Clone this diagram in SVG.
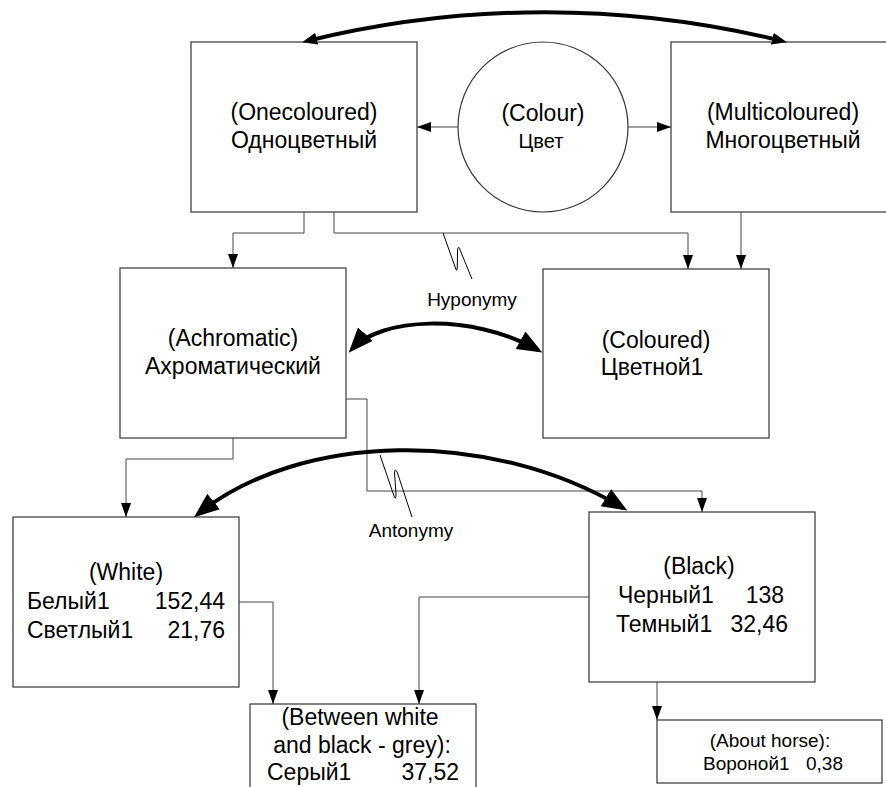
<svg xmlns="http://www.w3.org/2000/svg" width="886" height="787" viewBox="0 0 886 787">
<style>
.box{fill:#fff;stroke:#333;stroke-width:1.2}
.t{font-family:"Liberation Sans",Arial,sans-serif;font-size:23px;fill:#000}
.m{text-anchor:middle}
.e{text-anchor:end}
.s{font-size:19px}
.c{fill:none;stroke:#444;stroke-width:1}
.thick{fill:none;stroke:#000;stroke-width:4}
.zig{fill:none;stroke:#000;stroke-width:1}
</style>
<defs>
<marker id="ah" markerUnits="userSpaceOnUse" markerWidth="16" markerHeight="12" refX="14" refY="5" orient="auto"><path d="M0,0 L14,5 L0,10 Z" fill="#000"/></marker>
<marker id="big" markerUnits="userSpaceOnUse" markerWidth="30" markerHeight="24" refX="20" refY="10" orient="auto-start-reverse"><path d="M0,0 L25,10 L0,20 Z" fill="#000"/></marker>
<marker id="sm" markerUnits="userSpaceOnUse" markerWidth="20" markerHeight="14" refX="10" refY="6" orient="auto-start-reverse"><path d="M0,0 L15,6 L0,12 Z" fill="#000"/></marker>
</defs>

<g id="onecoloured"><rect class="box" x="191" y="42" width="226" height="170"/><text class="t m" x="304" y="120">(Onecoloured)</text><text class="t m" x="304" y="148">Одноцветный</text></g>
<g id="colour"><circle class="box" cx="543" cy="127" r="85"/><text class="t m" x="543" y="121">(Colour)</text><text class="t m" x="541" y="148" style="font-size:20px">Цвет</text></g>
<g id="multicoloured"><rect class="box" x="671" y="42" width="226" height="170"/><text class="t m" x="783" y="120">(Multicoloured)</text><text class="t m" x="783" y="148">Многоцветный</text></g>
<g id="achromatic"><rect class="box" x="120" y="268" width="226" height="170"/><text class="t m" x="233" y="346">(Achromatic)</text><text class="t m" x="233" y="374">Ахроматический</text></g>
<g id="coloured"><rect class="box" x="543" y="269" width="226" height="169"/><text class="t m" x="656" y="348">(Coloured)</text><text class="t m" x="652" y="375">Цветной1</text></g>
<g id="white"><rect class="box" x="13" y="517" width="226" height="170"/><text class="t m" x="126" y="580">(White)</text><text class="t" x="27" y="609">Белый1</text><text class="t e" x="225" y="609">152,44</text><text class="t" x="27" y="638">Светлый1</text><text class="t e" x="225" y="638">21,76</text></g>
<g id="black"><rect class="box" x="589" y="512" width="226" height="170"/><text class="t m" x="699" y="574">(Black)</text><text class="t" x="618" y="603">Черный1</text><text class="t e" x="784" y="603">138</text><text class="t" x="616" y="632">Темный1</text><text class="t e" x="788" y="632">32,46</text></g>
<g id="grey"><rect class="box" x="250" y="704" width="226" height="100"/><text class="t m" x="360" y="725">(Between white</text><text class="t m" x="362" y="753">and black - grey):</text><text class="t" x="267" y="780">Серый1</text><text class="t e" x="459" y="780">37,52</text></g>
<g id="horse"><rect class="box" x="657" y="720" width="225" height="63"/><text class="t m s" x="770" y="747">(About horse):</text><text class="t s" x="703" y="770">Вороной1</text><text class="t s e" x="843" y="770">0,38</text></g>

<g id="connectors">
<path class="c" d="M458,127 H417" marker-end="url(#ah)"/>
<path class="c" d="M628,127 H671" marker-end="url(#ah)"/>
<path class="c" d="M304,212 V233 H233 V268" marker-end="url(#ah)"/>
<path class="c" d="M334,212 V233 H688 V269" marker-end="url(#ah)"/>
<path class="c" d="M741,212 V269" marker-end="url(#ah)"/>
<path class="c" d="M233,438 V459 H126 V517" marker-end="url(#ah)"/>
<path class="c" d="M346,399 H367 V491 H702 V512" marker-end="url(#ah)"/>
<path class="c" d="M239,602 H273 V704" marker-end="url(#ah)"/>
<path class="c" d="M589,597 H419 V704" marker-end="url(#ah)"/>
<path class="c" d="M657,682 V720" marker-end="url(#ah)"/>
<path class="thick" d="M307,41 A995,995 0 0 1 782,41" marker-start="url(#sm)" marker-end="url(#sm)"/>
<path class="thick" d="M352,349 C380,318 470,312 538,350" marker-start="url(#big)" marker-end="url(#big)"/>
<path class="thick" d="M198,514 C300,432 490,428 623,508" marker-start="url(#big)" marker-end="url(#big)"/>
<path class="zig" d="M443,233 L455.5,268 Q457,273 457.3,267 L457.5,250 Q458.5,244 460.5,251 L472,279"/>
<path class="zig" d="M380,455 L394,496 Q396,501 396,494 L394.5,473 Q395,467 397.5,473 L412,517"/>
<text class="t m s" x="472" y="306">Hyponymy</text>
<text class="t m s" x="411" y="537">Antonymy</text>
</g>
</svg>
